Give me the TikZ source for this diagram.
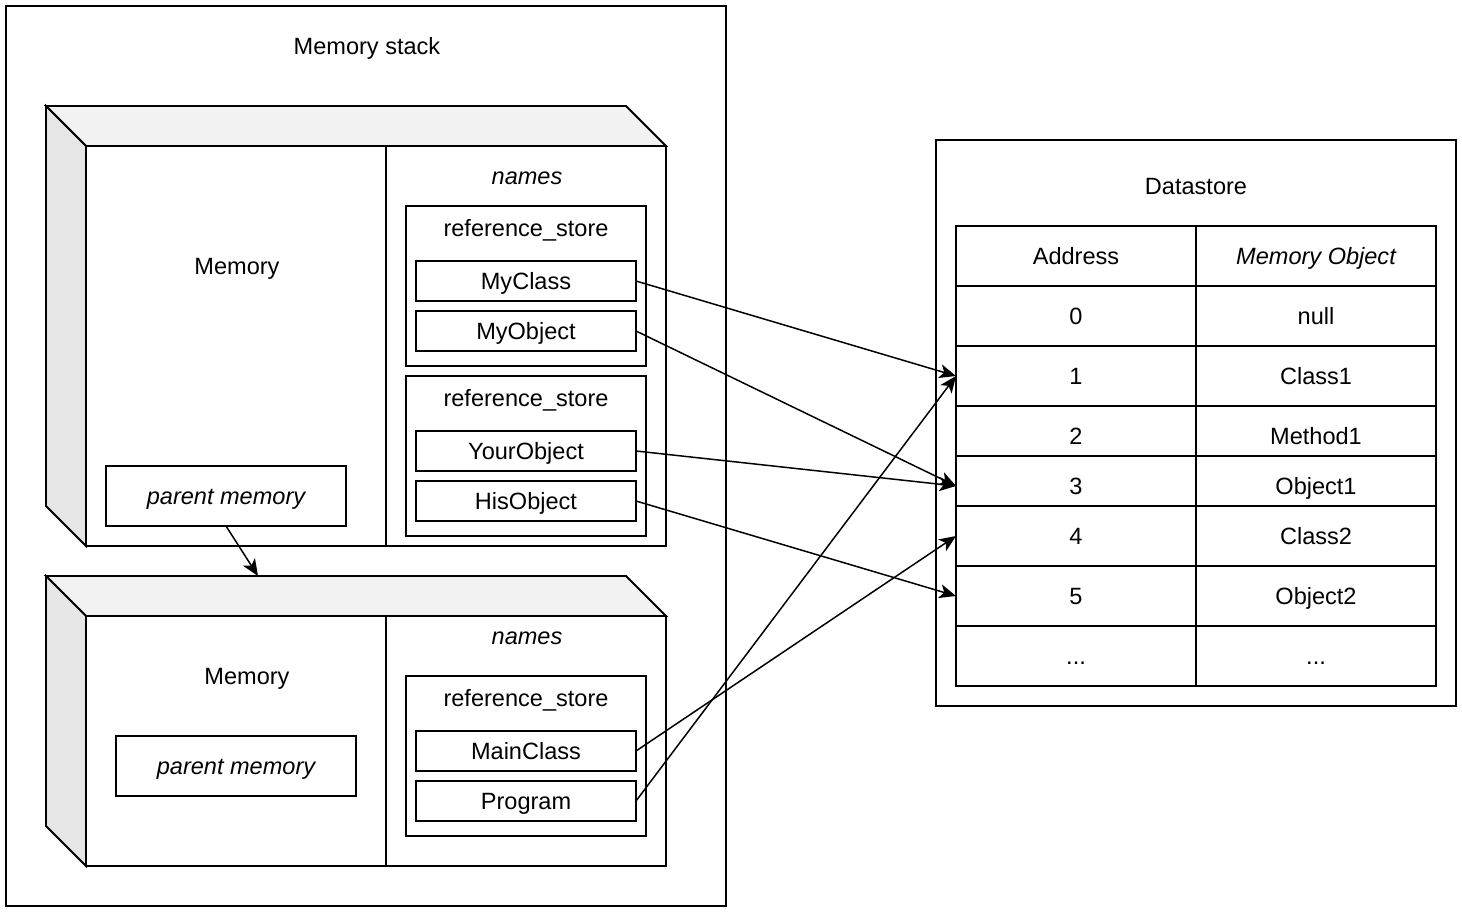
\documentclass[tikz,border=0pt]{standalone}
\usepackage{fontspec}
\setmainfont{Liberation Sans}
\usetikzlibrary{shapes,arrows.meta}
\usetikzlibrary{positioning}
\definecolor{topface}{HTML}{F2F2F2}
\definecolor{sideface}{HTML}{E6E6E6}
\tikzset{>={Stealth[length=9.5pt, width=8pt, inset=2.5pt]}, minimum size=0pt, x=0.02cm, y=-0.02cm, font=\fontsize{13.4}{13.4}\selectfont}
\tikzstyle{block} = [draw, fill=white, rectangle, line width=1.1pt, inner sep=0pt, outer sep=0pt, text centered, text height=10pt, text depth=0.4pt]
\tikzstyle{half} = [block, minimum height=8cm]
\tikzstyle{parent} = [block, minimum width=4.8cm, minimum height=1.2cm, font=\fontsize{13.4}{13.4}\selectfont\itshape]
\tikzstyle{store} = [block, minimum width=4.8cm, minimum height=3.2cm]
\tikzstyle{entry} = [block, minimum width=4.4cm, minimum height=0.8cm]
\tikzstyle{cell} = [block, minimum width=4.8cm, minimum height=1.2cm]
\tikzstyle{lowcell} = [cell, minimum height=1cm, text height=15.7pt]
\tikzstyle{face} = [line width=1.1pt, line join=miter]
\tikzstyle{txt} = [inner sep=0pt, anchor=center, text height=10pt, text depth=0.4pt]
\tikzstyle{ref} = [->, line width=0.85pt]

\begin{document}
\begin{tikzpicture}
		\useasboundingbox (0,0) rectangle (1462,912);
		% memory stack
		\node [block, minimum width=14.4cm, minimum height=18cm] (stack) at (366,456) {};
		\node [txt] (stack-title) at (367,46) {Memory stack};

		% first memory
		\draw [face, fill=topface] (46,106) -- (626,106) -- (666,146) -- (86,146) -- cycle;
		\draw [face, fill=sideface] (46,106) -- (86,146) -- (86,546) -- (46,506) -- cycle;
		\node [half, minimum width=6cm] (mem1) at (236,346) {};
		\node [half, minimum width=5.6cm] (names1) at (526,346) {};
		\node [txt] (mem1-title) at (237,266) {Memory};
		\node [txt, font=\fontsize{13.4}{13.4}\selectfont\itshape] (names1-title) at (527,176) {names};
		\node [parent] (parent1) at (226,496) {parent memory};
		\node [store] (store1) at (526,286) {};
		\node [txt] (store1-title) at (526,228) {reference\_store};
		\node [entry] (myclass) at (526,281) {MyClass};
		\node [entry] (myobject) at (526,331) {MyObject};
		\node [store] (store2) at (526,456) {};
		\node [txt] (store2-title) at (526,398) {reference\_store};
		\node [entry] (yourobject) at (526,451) {YourObject};
		\node [entry] (hisobject) at (526,501) {HisObject};

		% second memory
		\draw [face, fill=topface] (46,576) -- (626,576) -- (666,616) -- (86,616) -- cycle;
		\draw [face, fill=sideface] (46,576) -- (86,616) -- (86,866) -- (46,826) -- cycle;
		\coordinate (mem2-top) at (258,576);
		\node [half, minimum width=6cm, minimum height=5cm] (mem2) at (236,741) {};
		\node [half, minimum width=5.6cm, minimum height=5cm] (names2) at (526,741) {};
		\node [txt] (mem2-title) at (247,676) {Memory};
		\node [txt, font=\fontsize{13.4}{13.4}\selectfont\itshape] (names2-title) at (527,636) {names};
		\node [parent] (parent2) at (236,766) {parent memory};
		\node [store] (store3) at (526,756) {};
		\node [txt] (store3-title) at (526,698) {reference\_store};
		\node [entry] (mainclass) at (526,751) {MainClass};
		\node [entry] (program) at (526,801) {Program};

		% datastore
		\node [block, minimum width=10.4cm, minimum height=11.32cm] (datastore) at (1196,423) {};
		\node [txt] (datastore-title) at (1196,186) {Datastore};
		\node [cell] (address) at (1076,256) {Address};
		\node [cell, font=\fontsize{13.4}{13.4}\selectfont\itshape] (object) at (1316,256) {Memory Object};
		\node [cell] (a0) at (1076,316) {0};
		\node [cell] (o0) at (1316,316) {null};
		\node [cell] (a1) at (1076,376) {1};
		\node [cell] (o1) at (1316,376) {Class1};
		\node [lowcell] (a2) at (1076,431) {2};
		\node [lowcell] (o2) at (1316,431) {Method1};
		\node [lowcell] (a3) at (1076,481) {3};
		\node [lowcell] (o3) at (1316,481) {Object1};
		\node [cell] (a4) at (1076,536) {4};
		\node [cell] (o4) at (1316,536) {Class2};
		\node [cell] (a5) at (1076,596) {5};
		\node [cell] (o5) at (1316,596) {Object2};
		\node [cell] (a6) at (1076,656) {...};
		\node [cell] (o6) at (1316,656) {...};

		\draw [ref] (parent1.south) -- (mem2-top);
		\draw [ref] (myclass.east) -- (a1.west);
		\draw [ref] (myobject.east) -- ([yshift=-0.1cm]a3.west);
		\draw [ref] (yourobject.east) -- ([yshift=-0.1cm]a3.west);
		\draw [ref] (hisobject.east) -- (a5.west);
		\draw [ref] (mainclass.east) -- (a4.west);
		\draw [ref] (program.east) -- (a1.west);
	\end{tikzpicture}
\end{document}
